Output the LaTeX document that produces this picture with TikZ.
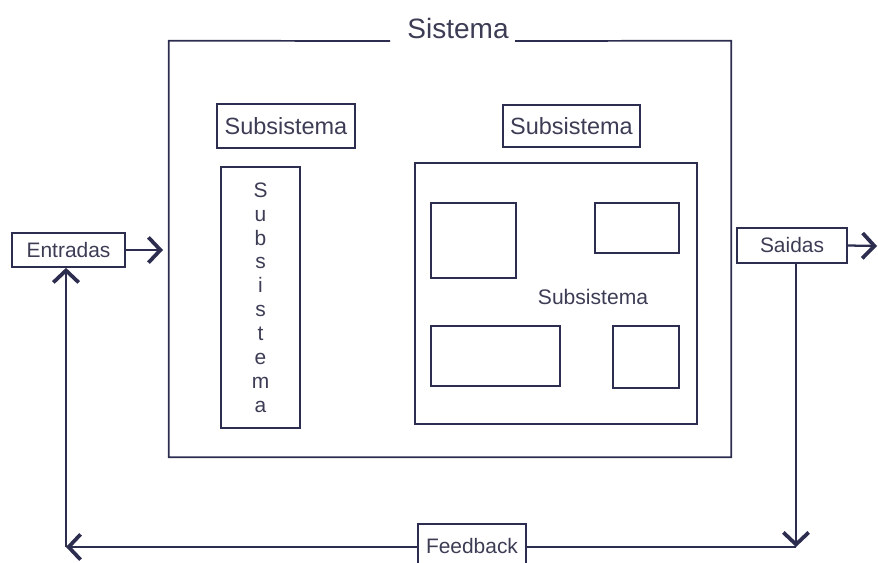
\documentclass[tikz,border=0pt]{standalone}
\usepackage{fontspec}
\setmainfont{Liberation Sans}
\usetikzlibrary{arrows.meta}
\definecolor{ink}{RGB}{45,45,80}
\definecolor{txt}{RGB}{60,60,85}
\begin{document}
\begin{tikzpicture}[x=0.75pt,y=-0.75pt,
  box/.style={draw=ink,line width=1.3pt,inner sep=0pt,anchor=center,text=txt},
  boxline/.style={draw=ink,line width=1.3pt},
  lbl/.style={text=txt,inner sep=0pt},
  fmid/.style={font=\fontsize{15.7}{18}\selectfont},
  fbig/.style={font=\fontsize{17.6}{20}\selectfont},
  conn/.style={draw=ink,line width=1.7pt},
  chev/.style={-{Straight Barb[length=9pt,width=19pt,line width=2.8pt]}}]
\useasboundingbox (0,0) rectangle (878,563);
\clip (0,0) rectangle (878,563);
% Sistema
\node[minimum width=421.5pt,minimum height=312pt,inner sep=0pt] (sis) at (450,249) {};
\node[lbl,font=\fontsize{21}{24}\selectfont] (sistit) at (458,28) {Sistema};
\coordinate (gapL) at (390,41);
\coordinate (gapR) at (515,41);
\draw[boxline] (gapL) -- (sis.north west) -- (sis.south west) -- (sis.south east) -- (sis.north east) -- (gapR);
% left subsystem
\node[box,fbig,minimum width=103.5pt,minimum height=33pt] (lab1) at (286,126) {Subsistema};
\node[box,fmid,align=center,minimum width=59.25pt,minimum height=195.75pt,font=\fontsize{15.7}{17.9}\selectfont] (vert) at (260.5,297.5)
  {S\\u\\b\\s\\i\\s\\t\\e\\m\\a};
% right subsystem
\node[box,fbig,minimum width=102.75pt,minimum height=31.5pt] (lab2) at (571.5,126) {Subsistema};
\node[box,minimum width=211.5pt,minimum height=195.75pt] (inner) at (556,293.5) {};
\node[box,minimum width=63.75pt,minimum height=56.25pt] (ba) at (473.5,240.5) {};
\node[box,minimum width=63pt,minimum height=37.5pt] (bb) at (637,228) {};
\node[box,minimum width=96.75pt,minimum height=45pt] (bc) at (495.5,356) {};
\node[box,minimum width=49.5pt,minimum height=46.5pt] (bd) at (646,357) {};
\node[lbl,font=\fontsize{15.8}{18}\selectfont] (innt) at (593,297) {Subsistema};
% inputs / outputs
\node[box,fmid,minimum width=84.75pt,minimum height=25.5pt] (ent) at (68.5,250) {Entradas};
\node[box,fmid,minimum width=82.5pt,minimum height=26.25pt] (sai) at (792,245.5) {Saidas};
\node[box,fmid,minimum width=81pt,minimum height=34.5pt] (fb) at (472,547) {\raisebox{1.5pt}{Feedback}};
\coordinate (entTip) at (163,250);
\coordinate (saiTip) at (877,246);
\coordinate (cR) at (796,547);
\coordinate (cL) at (66,547);
\draw[conn,chev] (ent.east) -- (entTip);
\draw[conn,chev] (sai.east) -- (saiTip);
\draw[conn,chev] (cR |- sai.south) -- (cR);
\draw[conn] (cR) -- (fb.east);
\draw[conn,chev] (fb.west) -- (cL);
\draw[conn,chev] (cL) -- (cL |- ent.south);
\end{tikzpicture}
\end{document}
